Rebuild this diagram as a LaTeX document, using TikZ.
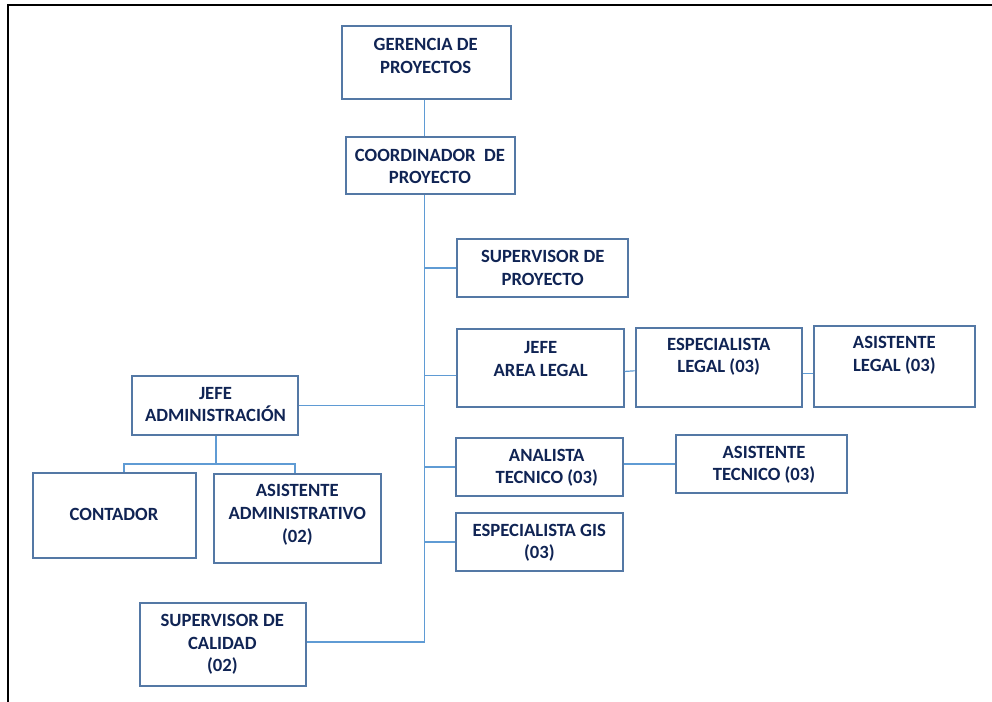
\documentclass[tikz,border=0pt]{standalone}
\usepackage{fontspec}
\setmainfont{Carlito}
\usetikzlibrary{fit,calc}
\definecolor{boxc}{RGB}{84,120,165}
\definecolor{linec}{RGB}{95,155,212}
\definecolor{navy}{RGB}{16,36,84}
\begin{document}
\begin{tikzpicture}[x=0.75pt,y=-0.75pt,
  box/.style={draw=boxc, line width=1.5pt, inner sep=0pt, fill=white},
  txt/.style={align=center, text=navy, inner sep=0pt, font=\fontsize{14}{16.9}\selectfont\bfseries},
  conn/.style={draw=linec, line width=0.9pt},
  frame/.style={draw=black, line width=1.9pt}]
\useasboundingbox (0,0) rectangle (992,702);
% frame
\coordinate (fl) at (8,702);
\coordinate (fc) at (8,5);
\coordinate (fr) at (992,5);
\draw[frame] (fl) -- (fc) -- (fr);

% boxes
\node[box, fit={(341.7,25.7) (511,98.7)}] (ger) {};
\node[box, fit={(346,136.7) (515,193.7)}] (coo) {};
\node[box, fit={(457.3,239) (628.3,297)}] (sup) {};
\node[box, fit={(457.3,329) (623.7,407.3)}] (jal) {};
\node[box, fit={(635.7,328) (802.3,407)}] (esl) {};
\node[box, fit={(813.7,325.7) (975,407)}] (asl) {};
\node[box, fit={(132,376) (298,435)}] (adm) {};
\node[box, fit={(33,473) (196,558)}] (con) {};
\node[box, fit={(214,474) (381,563)}] (asa) {};
\node[box, fit={(456,438) (623,496)}] (ana) {};
\node[box, fit={(676,435) (847,493)}] (ast) {};
\node[box, fit={(456,513) (623,571)}] (gis) {};
\node[box, fit={(140,603) (306,686)}] (cal) {};

% texts
\node[txt] (tger) at (425.7,55.7) {GERENCIA DE\\PROYECTOS};
\node[txt] (tcoo) at (430,166.3) {COORDINADOR\ \ DE\\PROYECTO};
\node[txt] (tsup) at (542.7,268) {SUPERVISOR DE\\PROYECTO};
\node[txt] (tjal) at (540.7,359.2) {JEFE\\AREA LEGAL};
\node[txt] (tesl) at (718.7,356.8) {ESPECIALISTA\\LEGAL (03)};
\node[txt] (tasl) at (894.3,355.5) {ASISTENTE\\LEGAL (03)};
\node[txt] (tadm) at (215.5,404.7) {JEFE\\ADMINISTRACIÓN};
\node[txt] (tcon) at (114,514.3) {CONTADOR};
\node[txt] (tasa) at (297.3,514.8) {ASISTENTE\\ADMINISTRATIVO\\(02)};
\node[txt] (tana) at (546.7,467.7) {ANALISTA\\TECNICO (03)};
\node[txt] (tast) at (764,464.7) {ASISTENTE\\TECNICO (03)};
\node[txt] (tgis) at (539.3,543) {ESPECIALISTA GIS\\(03)};
\node[txt] (tcal) at (222.3,644.3) {SUPERVISOR DE\\CALIDAD\\(02)};

% connectors
\coordinate (tbot) at (424.5,642);
\coordinate (bus) at (216,464);
\draw[conn] (ger.south -| tbot) -- (coo.north -| tbot);
\draw[conn] (coo.south -| tbot) -- (tbot);
\draw[conn] (sup.west) -- (sup.west -| tbot);
\draw[conn] ($(jal.west)+(0,7)$) -- ($(jal.west -| tbot)+(0,7)$);
\draw[conn] (adm.east) -- (adm.east -| tbot);
\draw[conn] (ana.west) -- (ana.west -| tbot);
\draw[conn] (gis.west) -- (gis.west -| tbot);
\draw[conn] (cal.east |- tbot) -- (tbot);
\draw[conn] ($(jal.east)+(0,3.3)$) -- ($(esl.west)+(0,3.3)$);
\draw[conn] ($(esl.east)+(0,6)$) -- ($(esl.east -| asl.west)+(0,6)$);
\draw[conn] (ana.east |- ast.west) -- (ast.west);
\draw[conn] (adm.south -| bus) -- (bus);
\draw[conn] ($(con.north)+(9.5,0)$) |- (bus) -| ($(asa.north)+(-2.5,0)$);
\end{tikzpicture}
\end{document}
